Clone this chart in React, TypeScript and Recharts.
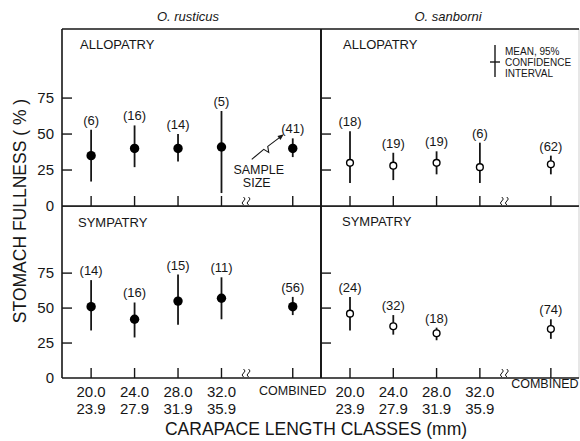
import React from 'react';
import { ScatterChart, Scatter, XAxis, YAxis, ErrorBar, ReferenceLine } from 'recharts';

// carapace length classes (mm)
const classStart = ['20.0', '24.0', '28.0', '32.0'];
const classEnd = ['23.9', '27.9', '31.9', '35.9'];
const combinedLabel = 'COMBINED';
const yTicks = [0, 25, 50, 75];

// O. rusticus, allopatry (4 classes + combined)
const rusAlloMean = [35, 40, 40, 41, 40];
const rusAlloLow = [17, 27, 31, 9, 34];
const rusAlloHigh = [53, 56, 50, 66, 47];
const rusAlloN = [6, 16, 14, 5, 41];

// O. rusticus, sympatry
const rusSympMean = [51, 42, 55, 57, 51];
const rusSympLow = [34, 29, 38, 42, 45];
const rusSympHigh = [70, 54, 74, 72, 58];
const rusSympN = [14, 16, 15, 11, 56];

// O. sanborni, allopatry
const sanAlloMean = [30, 28, 30, 27, 29];
const sanAlloLow = [16, 18, 22, 16, 22];
const sanAlloHigh = [52, 37, 38, 44, 35];
const sanAlloN = [18, 19, 19, 6, 62];

// O. sanborni, sympatry (no 32.0-35.9 sample)
const sanSympMean = [46, 37, 32, null, 35];
const sanSympLow = [34, 31, 27, null, 28];
const sanSympHigh = [58, 45, 36, null, 42];
const sanSympN = [24, 32, 18, null, 74];

const FONT = '"Liberation Sans", Arial, Helvetica, sans-serif';
const INK = '#161616';

// axis layout
const X_MIN = 0.33;
const X_MAX = 6.29;
const BREAK_X = 4.6;
const COMBINED_X = 5.64;
const Y_MAX = 123;

type Row = { x: number; mean: number; high: number; n: number; err: [number, number] };

const xPos = (i: number) => (i < classStart.length ? i + 1 : COMBINED_X);

function buildRows(
  mean: (number | null)[],
  low: (number | null)[],
  high: (number | null)[],
  n: (number | null)[]
): Row[] {
  const rows: Row[] = [];
  mean.forEach((m, i) => {
    if (m == null) return;
    const lo = low[i] as number;
    const hi = high[i] as number;
    rows.push({ x: xPos(i), mean: m, high: hi, n: n[i] as number, err: [m - lo, hi - m] });
  });
  return rows;
}

const XTick = (props: any) => {
  const { x, y, payload, labels, combinedDx, combinedDy } = props;
  const v = payload.value;
  if (v === BREAK_X) {
    return (
      <path
        d={`M${x - 4},${y - 9} q3,2 0,4 q-3,2 0,4 M${x + 1},${y - 9} q3,2 0,4 q-3,2 0,4`}
        stroke={INK}
        strokeWidth={1}
        fill="none"
      />
    );
  }
  const i = v - 1;
  return (
    <g>
      <line x1={x} y1={y} x2={x} y2={y - 10} stroke={INK} strokeWidth={1.4} />
      {labels && v === COMBINED_X && (
        <text x={x + combinedDx} y={y + combinedDy} textAnchor="middle" fontSize={12.5} fontFamily={FONT} fill={INK}>
          {combinedLabel}
        </text>
      )}
      {labels && v !== COMBINED_X && (
        <text textAnchor="middle" fontSize={15} fontFamily={FONT} fill={INK}>
          <tspan x={x} y={y + 19}>{classStart[i]}</tspan>
          <tspan x={x} y={y + 36}>{classEnd[i]}</tspan>
        </text>
      )}
    </g>
  );
};

const YTick = (props: any) => {
  const { x, y, payload, labels } = props;
  const v = payload.value;
  return (
    <g>
      {v !== 0 && <line x1={x} y1={y} x2={x + 10} y2={y} stroke={INK} strokeWidth={1.4} />}
      {labels && (
        <text x={x - 8} y={y + 5} textAnchor="end" fontSize={15} fontFamily={FONT} fill={INK}>
          {v}
        </text>
      )}
    </g>
  );
};

const NLabel = (s: any) => {
  const { cx, cy, payload, annotate } = s;
  const bx = cx;
  const by = cy - 5;
  return (
    <g>
      <text x={bx} y={by} textAnchor="middle" fontSize={13} fontFamily={FONT} fill={INK}>
        ({payload.n})
      </text>
      {annotate && payload.x === COMBINED_X && (
        <g>
          <path
            d={`M${bx - 41},${by + 26} L${bx - 29},${by + 16} L${bx - 24},${by + 19} L${bx - 25},${by + 13} L${bx - 13},${by + 4}`}
            stroke={INK}
            strokeWidth={1.1}
            fill="none"
          />
          <path d={`M${bx - 9},${by + 1} L${bx - 12.3},${by + 6.6} L${bx - 15.3},${by + 2.6} Z`} fill={INK} />
          <text x={bx - 34} y={by + 41} textAnchor="middle" fontSize={12.5} fontFamily={FONT} fill={INK}>
            SAMPLE
          </text>
          <text x={bx - 36} y={by + 54} textAnchor="middle" fontSize={12.5} fontFamily={FONT} fill={INK}>
            SIZE
          </text>
        </g>
      )}
    </g>
  );
};

const Marker = (s: any) => {
  const { cx, cy, filled } = s;
  return filled ? (
    <circle cx={cx} cy={cy} r={4.7} fill="#000" />
  ) : (
    <circle cx={cx} cy={cy} r={3.4} fill="#fff" stroke="#000" strokeWidth={1.4} />
  );
};

type PanelProps = {
  rows: Row[];
  filled: boolean;
  left: number;
  top: number;
  width: number;
  height: number;
  marginTop: number;
  marginRight: number;
  yAxisWidth: number;
  xAxisHeight: number;
  xLabels: boolean;
  yLabels: boolean;
  combinedDx: number;
  combinedDy: number;
  faintRight: boolean;
  annotate?: boolean;
};

function Panel(p: PanelProps) {
  const xTicks = [...classStart.map((_, i) => i + 1), BREAK_X, COMBINED_X];
  return (
    <div style={{ position: 'absolute', left: p.left, top: p.top }}>
      <ScatterChart
        width={p.width}
        height={p.height}
        margin={{ top: p.marginTop, right: p.marginRight, bottom: 0, left: 0 }}
      >
        <XAxis
          type="number"
          dataKey="x"
          domain={[X_MIN, X_MAX]}
          ticks={xTicks}
          interval={0}
          allowDataOverflow
          axisLine={false}
          tickLine={false}
          tickSize={0}
          tickMargin={0}
          height={p.xAxisHeight}
          tick={(t: any) => (
            <XTick {...t} labels={p.xLabels} combinedDx={p.combinedDx} combinedDy={p.combinedDy} />
          )}
        />
        <YAxis
          type="number"
          domain={[0, Y_MAX]}
          ticks={yTicks}
          interval={0}
          allowDataOverflow
          axisLine={false}
          tickLine={false}
          tickSize={0}
          tickMargin={0}
          width={p.yAxisWidth}
          tick={(t: any) => <YTick {...t} labels={p.yLabels} />}
        />
        <ReferenceLine x={X_MIN} stroke={INK} strokeWidth={1.6} />
        <ReferenceLine x={X_MAX} stroke={p.faintRight ? '#cfcfcf' : INK} strokeWidth={p.faintRight ? 1 : 1.8} />
        <ReferenceLine y={0} stroke={INK} strokeWidth={1.6} />
        <ReferenceLine y={Y_MAX} stroke={INK} strokeWidth={1.6} />
        <Scatter
          data={p.rows}
          dataKey="high"
          isAnimationActive={false}
          shape={(s: any) => <NLabel {...s} annotate={p.annotate} />}
        />
        <Scatter
          data={p.rows}
          dataKey="mean"
          isAnimationActive={false}
          shape={(s: any) => <Marker {...s} filled={p.filled} />}
        >
          <ErrorBar dataKey="err" direction="y" width={0} stroke={INK} strokeWidth={1.8} />
        </Scatter>
      </ScatterChart>
    </div>
  );
}

const abs = (left: number, top: number, extra: React.CSSProperties = {}): React.CSSProperties => ({
  position: 'absolute',
  left,
  top,
  whiteSpace: 'nowrap',
  ...extra,
});

export default function App() {
  const rusAllo = buildRows(rusAlloMean, rusAlloLow, rusAlloHigh, rusAlloN);
  const rusSymp = buildRows(rusSympMean, rusSympLow, rusSympHigh, rusSympN);
  const sanAllo = buildRows(sanAlloMean, sanAlloLow, sanAlloHigh, sanAlloN);
  const sanSymp = buildRows(sanSympMean, sanSympLow, sanSympHigh, sanSympN);

  return (
    <div
      style={{
        position: 'absolute',
        left: 0,
        top: 0,
        width: 580,
        height: 441,
        overflow: 'hidden',
        background: '#fff',
        fontFamily: FONT,
        color: INK,
      }}
    >
      <Panel rows={rusAllo} filled left={0} top={0} width={351} height={218} marginTop={29} marginRight={30}
        yAxisWidth={62} xAxisHeight={12} xLabels={false} yLabels combinedDx={0} combinedDy={17} faintRight={false} annotate />
      <Panel rows={rusSymp} filled left={0} top={206} width={351} height={235} marginTop={0} marginRight={30}
        yAxisWidth={62} xAxisHeight={63} xLabels yLabels combinedDx={0} combinedDy={17} faintRight={false} />
      <Panel rows={sanAllo} filled={false} left={311} top={0} width={290} height={218} marginTop={29} marginRight={22}
        yAxisWidth={10} xAxisHeight={12} xLabels={false} yLabels={false} combinedDx={-6} combinedDy={10} faintRight />
      <Panel rows={sanSymp} filled={false} left={311} top={206} width={290} height={235} marginTop={0} marginRight={22}
        yAxisWidth={10} xAxisHeight={63} xLabels yLabels={false} combinedDx={-6} combinedDy={10} faintRight />

      <div style={abs(188, 16, { transform: 'translate(-50%,-50%)', fontSize: 13, fontStyle: 'italic' })}>O. rusticus</div>
      <div style={abs(448, 16, { transform: 'translate(-50%,-50%)', fontSize: 13, fontStyle: 'italic' })}>O. sanborni</div>

      <div style={abs(80, 44, { transform: 'translateY(-50%)', fontSize: 13 })}>ALLOPATRY</div>
      <div style={abs(78, 222, { transform: 'translateY(-50%)', fontSize: 13 })}>SYMPATRY</div>
      <div style={abs(343, 44, { transform: 'translateY(-50%)', fontSize: 13 })}>ALLOPATRY</div>
      <div style={abs(342, 221, { transform: 'translateY(-50%)', fontSize: 13 })}>SYMPATRY</div>

      <svg style={abs(486, 42)} width={18} height={40}>
        <line x1={9} y1={3} x2={9} y2={35} stroke={INK} strokeWidth={1.4} />
        <line x1={4} y1={20} x2={14} y2={20} stroke={INK} strokeWidth={1.4} />
      </svg>
      <div style={abs(505, 46, { fontSize: 10, lineHeight: '11px' })}>
        MEAN, 95%
        <br />
        CONFIDENCE
        <br />
        INTERVAL
      </div>

      <div style={abs(20, 211, { transform: 'translate(-50%,-50%) rotate(-90deg)', fontSize: 17.5 })}>
        STOMACH FULLNESS ( % )
      </div>
      <div style={abs(316, 429, { transform: 'translate(-50%,-50%)', fontSize: 17.5 })}>
        CARAPACE LENGTH CLASSES (mm)
      </div>
    </div>
  );
}
